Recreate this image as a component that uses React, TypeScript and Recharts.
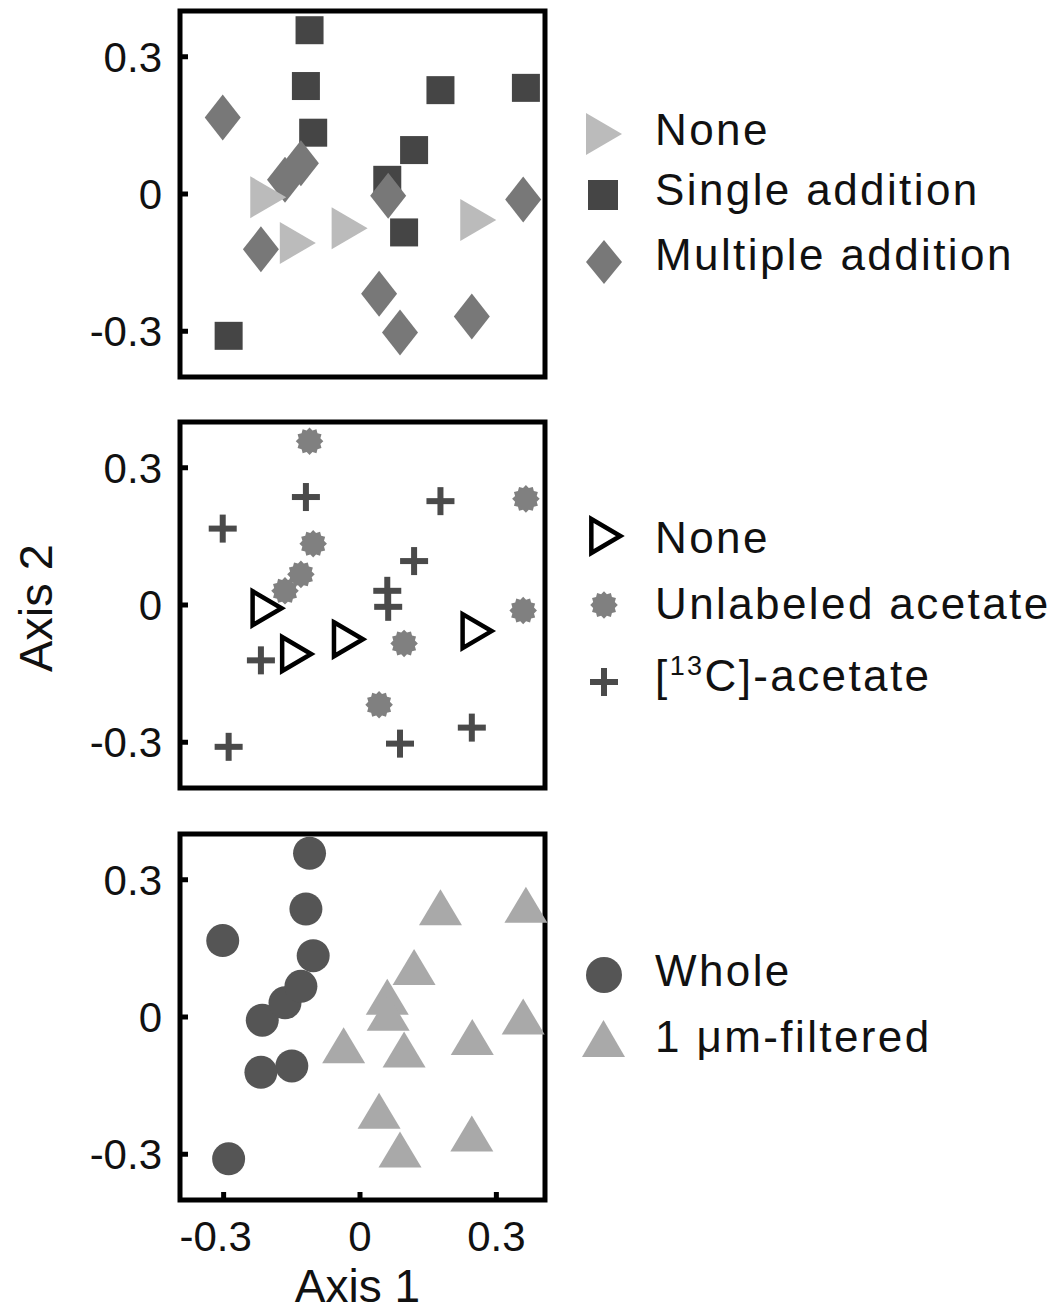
import React from 'react';
import { ScatterChart, Scatter, XAxis, YAxis, ReferenceArea, Legend } from 'recharts';

// ordination scores, one entry per sample
const axis1 = [
  -0.215, -0.150, -0.036, 0.247,
  -0.111, -0.119, -0.103, 0.177, 0.365, 0.119, 0.060, 0.097, -0.289,
  -0.302, -0.165, -0.130, -0.218, 0.062, 0.359, 0.042, 0.088, 0.246,
];
const axis2 = [
  -0.007, -0.107, -0.075, -0.057,
  0.358, 0.236, 0.134, 0.227, 0.232, 0.096, 0.031, -0.084, -0.310,
  0.167, 0.031, 0.067, -0.121, -0.004, -0.012, -0.218, -0.303, -0.268,
];
const addition = [
  'None', 'None', 'None', 'None',
  'Single addition', 'Single addition', 'Single addition', 'Single addition', 'Single addition',
  'Single addition', 'Single addition', 'Single addition', 'Single addition',
  'Multiple addition', 'Multiple addition', 'Multiple addition', 'Multiple addition', 'Multiple addition',
  'Multiple addition', 'Multiple addition', 'Multiple addition', 'Multiple addition',
];
const substrate = [
  'None', 'None', 'None', 'None',
  'Unlabeled', '13C', 'Unlabeled', '13C', 'Unlabeled', '13C', '13C', 'Unlabeled', '13C',
  '13C', 'Unlabeled', 'Unlabeled', '13C', '13C', 'Unlabeled', 'Unlabeled', '13C', '13C',
];
const fraction = [
  'Whole', 'Whole', 'Filtered', 'Filtered',
  'Whole', 'Whole', 'Whole', 'Filtered', 'Filtered', 'Filtered', 'Filtered', 'Filtered', 'Whole',
  'Whole', 'Whole', 'Whole', 'Whole', 'Filtered', 'Filtered', 'Filtered', 'Filtered', 'Filtered',
];

const axisTicks = [-0.3, 0, 0.3];
const X_DOMAIN: [number, number] = [-0.396, 0.407];
const Y_DOMAIN: [number, number] = [-0.4, 0.4];

const FONT = '"Liberation Sans", Arial, Helvetica, sans-serif';
const INK = '#111';

const samples = axis1.map((x, i) => ({
  x,
  y: axis2[i],
  addition: addition[i],
  substrate: substrate[i],
  fraction: fraction[i],
}));

const pick = (key: 'addition' | 'substrate' | 'fraction', value: string) =>
  samples.filter((s) => s[key] === value);

// --- marker shapes ---
const rightTri = (cx: number, cy: number, w: number, h: number, fill: string, stroke = 'none', sw = 0) => (
  <path
    d={`M${cx - w / 3},${cy - h / 2} L${cx + (2 * w) / 3},${cy} L${cx - w / 3},${cy + h / 2} Z`}
    fill={fill}
    stroke={stroke}
    strokeWidth={sw}
    strokeLinejoin="miter"
  />
);
const upTri = (cx: number, cy: number, w = 43, h = 36) => (
  <path d={`M${cx},${cy - (2 * h) / 3} L${cx + w / 2},${cy + h / 3} L${cx - w / 2},${cy + h / 3} Z`} fill="#a9a9a9" />
);
const square = (cx: number, cy: number, s = 28) => (
  <rect x={cx - s / 2} y={cy - s / 2} width={s} height={s} fill="#454545" />
);
const diamond = (cx: number, cy: number, w = 36, h = 46) => (
  <path d={`M${cx},${cy - h / 2} L${cx + w / 2},${cy} L${cx},${cy + h / 2} L${cx - w / 2},${cy} Z`} fill="#787878" />
);
const asterisk = (cx: number, cy: number) => {
  const pts: string[] = [];
  for (let k = 0; k < 24; k++) {
    const r = k % 2 === 0 ? 13.8 : 11.2;
    const a = (Math.PI * k) / 12;
    pts.push(`${cx + r * Math.cos(a)},${cy + r * Math.sin(a)}`);
  }
  return <polygon points={pts.join(' ')} fill="#808080" />;
};
const plus = (cx: number, cy: number) => (
  <g fill="#4a4a4a">
    <rect x={cx - 14} y={cy - 3} width={28} height={6} />
    <rect x={cx - 3} y={cy - 14} width={6} height={28} />
  </g>
);
const dot = (cx: number, cy: number) => <circle cx={cx} cy={cy} r={16.5} fill="#555" />;

const noneFilled = (cx: number, cy: number) => rightTri(cx, cy, 36, 42, '#bbbbbb');
const noneOpen = (cx: number, cy: number) => rightTri(cx, cy, 29, 34, '#fff', '#000', 4.5);

const shapeOf = (draw: (cx: number, cy: number) => React.ReactElement) => (props: any) => draw(props.cx, props.cy);

// --- legends ---
type LegendRow = { label: React.ReactNode; textY: number; symX: number; symY: number; draw: (cx: number, cy: number) => React.ReactElement };

const PanelLegend = ({ rows, height }: { rows: LegendRow[]; height: number }) => (
  <svg width={503} height={height} style={{ display: 'block' }}>
    {rows.map((r, i) => (
      <g key={i}>
        {r.draw(r.symX, r.symY)}
        <text x={95} y={r.textY + 15.7} fontSize={44} letterSpacing={2.4} fontFamily={FONT} fill={INK}>
          {r.label}
        </text>
      </g>
    ))}
  </svg>
);

const legendOne: LegendRow[] = [
  { label: 'None', textY: 129, symX: 38, symY: 134, draw: noneFilled },
  { label: 'Single addition', textY: 189, symX: 43, symY: 195, draw: (x, y) => square(x, y, 30) },
  { label: 'Multiple addition', textY: 254, symX: 44, symY: 262, draw: (x, y) => diamond(x, y, 36, 44) },
];
const legendTwo: LegendRow[] = [
  { label: 'None', textY: 126.5, symX: 41, symY: 125, draw: noneOpen },
  { label: 'Unlabeled acetate', textY: 192.5, symX: 44, symY: 194, draw: asterisk },
  {
    label: (
      <>
        <tspan>[</tspan>
        <tspan fontSize={27} dy={-16}>13</tspan>
        <tspan dy={16}>C]-acetate</tspan>
      </>
    ),
    textY: 264.5, symX: 44, symY: 271, draw: plus,
  },
];
const legendThree: LegendRow[] = [
  { label: 'Whole', textY: 148, symX: 44, symY: 153, draw: (x, y) => <circle cx={x} cy={y} r={18} fill="#555" /> },
  { label: '1 μm-filtered', textY: 214, symX: 43.5, symY: 222.7, draw: (x, y) => upTri(x, y, 43, 37) },
];

const tickFmt = (v: number) => (v === 0 ? '0' : String(v));

// x tick labels: the minus sign hangs to the left of the centred number
const XTick = (props: any) => {
  const { x, y, payload } = props;
  const v = payload.value as number;
  return (
    <text x={x + (v < 0 ? -8 : 0)} y={y} dy="0.71em" textAnchor="middle" fontSize={42} fontFamily={FONT} fill={INK}>
      {tickFmt(v)}
    </text>
  );
};

const axisOneLabel = (props: any) => {
  const vb = props.viewBox;
  return (
    <text x={vb.x + vb.width / 2 - 5} y={vb.y + 102} textAnchor="middle" fontSize={46} fontFamily={FONT} fill={INK}>
      Axis 1
    </text>
  );
};
const axisTwoLabel = (props: any) => {
  const vb = props.viewBox;
  const cx = 52;
  const cy = vb.y + 186;
  return (
    <text x={cx} y={cy} transform={`rotate(-90 ${cx} ${cy})`} textAnchor="middle" fontSize={47} fontFamily={FONT} fill={INK}>
      Axis 2
    </text>
  );
};

function Panel({
  height, top, xAxisHeight, showX, legend, yLabel, children,
}: {
  height: number; top: number; xAxisHeight: number; showX?: boolean; legend: LegendRow[]; yLabel?: boolean; children: React.ReactNode;
}) {
  return (
    <ScatterChart width={1063} height={height} margin={{ top, right: 518, bottom: 0, left: 0 }}>
      <XAxis
        type="number"
        dataKey="x"
        domain={X_DOMAIN}
        ticks={axisTicks}
        interval={0}
        height={xAxisHeight}
        axisLine={false}
        tickLine={{ stroke: '#000', strokeWidth: 5 }}
        tickSize={-8}
        tickMargin={29}
        tick={showX ? <XTick /> : false}
        label={showX ? { content: axisOneLabel } : undefined}
      />
      <YAxis
        type="number"
        dataKey="y"
        domain={Y_DOMAIN}
        ticks={axisTicks}
        interval={0}
        width={180}
        axisLine={false}
        tickLine={{ stroke: '#000', strokeWidth: 5 }}
        tickSize={-8}
        tickMargin={26}
        tick={{ fontSize: 42, fill: INK, fontFamily: FONT }}
        tickFormatter={tickFmt}
        label={yLabel ? { content: axisTwoLabel } : undefined}
      />
      {children}
      <ReferenceArea
        x1={X_DOMAIN[0]}
        x2={X_DOMAIN[1]}
        y1={Y_DOMAIN[0]}
        y2={Y_DOMAIN[1]}
        fill="none"
        stroke="#000"
        strokeWidth={5}
        ifOverflow="visible"
      />
      <Legend
        layout="vertical"
        align="center"
        verticalAlign="middle"
        wrapperStyle={{ left: 560, top: 0, width: 503, height }}
        content={() => <PanelLegend rows={legend} height={height} />}
      />
    </ScatterChart>
  );
}

export default function App() {
  return (
    <div style={{ position: 'absolute', left: 0, top: 0, width: 1063, height: 1313, background: '#fff' }}>
      <Panel height={411} top={11} xAxisHeight={34} legend={legendOne}>
        <Scatter name="Single addition" data={pick('addition', 'Single addition')} shape={shapeOf(square)} isAnimationActive={false} />
        <Scatter name="Multiple addition" data={pick('addition', 'Multiple addition')} shape={shapeOf(diamond)} isAnimationActive={false} />
        <Scatter name="None" data={pick('addition', 'None')} shape={shapeOf(noneFilled)} isAnimationActive={false} />
      </Panel>
      <Panel height={411} top={11} xAxisHeight={34} legend={legendTwo} yLabel>
        <Scatter name="[13C]-acetate" data={pick('substrate', '13C')} shape={shapeOf(plus)} isAnimationActive={false} />
        <Scatter name="Unlabeled acetate" data={pick('substrate', 'Unlabeled')} shape={shapeOf(asterisk)} isAnimationActive={false} />
        <Scatter name="None" data={pick('substrate', 'None')} shape={shapeOf(noneOpen)} isAnimationActive={false} />
      </Panel>
      <Panel height={491} top={12} xAxisHeight={113} legend={legendThree} showX>
        <Scatter name="Whole" data={pick('fraction', 'Whole')} shape={shapeOf(dot)} isAnimationActive={false} />
        <Scatter name="1 μm-filtered" data={pick('fraction', 'Filtered')} shape={shapeOf((cx, cy) => upTri(cx, cy))} isAnimationActive={false} />
      </Panel>
    </div>
  );
}
